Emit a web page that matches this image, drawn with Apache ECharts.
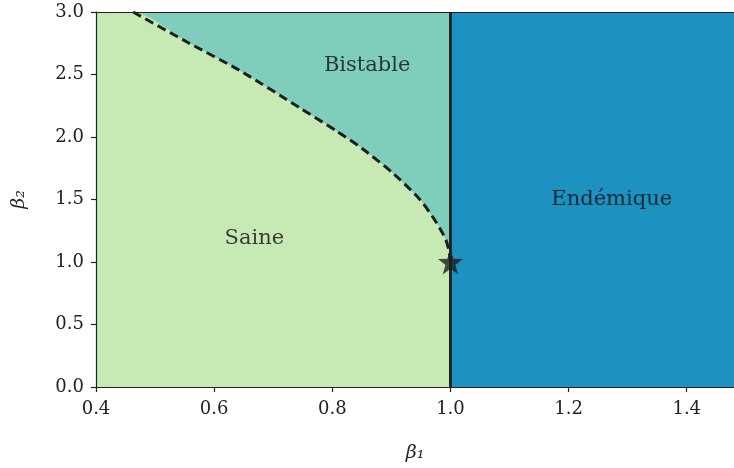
<!DOCTYPE html>
<html>
<head>
<meta charset="utf-8">
<script src="https://cdn.jsdelivr.net/npm/echarts@6/dist/echarts.min.js"></script>
<style>
  html, body { margin: 0; padding: 0; background: #fff; }
  #chart { width: 734px; height: 468px; }
</style>
</head>
<body>
<div id="chart"></div>
<script>
// frontière bistable (pointillés)
var curveX = [0.463, 0.554, 0.644, 0.746, 0.808, 0.850, 0.904, 0.949, 0.977, 0.992, 0.998, 1.0];
var curveY = [3.0, 2.76, 2.53, 2.23, 2.045, 1.91, 1.705, 1.496, 1.31, 1.18, 1.08, 1.0];
var threshold = 1.0;
var xMin = 0.4, xMax = 1.48, yMin = 0, yMax = 3;
var regionNames = ["Saine", "Bistable", "Endémique"];
var regionPos = [[0.668, 1.19], [0.859, 2.57], [1.273, 1.5]];
var colors = { saine: "#c7e9b4", bistable: "#7fcdbb", endemique: "#1d91c0", ink: "#1e1e1e" };

var font = "DejaVu Serif";

var curve = curveX.map(function (x, i) { return [x, curveY[i]]; });
var saineArea = [[xMin, yMax]].concat(curve).concat([[threshold, yMin]]);

var chart = echarts.init(document.getElementById("chart"));
var option = {
  animation: false,
  grid: { left: 96, right: 0, top: 12, bottom: 81 },
  xAxis: [
    {
      type: "value", min: xMin, max: xMax, interval: 0.2, z: 10,
      name: "β₁", nameLocation: "middle", nameGap: 57,
      nameTextStyle: { fontFamily: font, fontSize: 19, fontStyle: "italic", color: "#222" },
      axisLine: { lineStyle: { color: "#222", width: 1.2 } },
      axisTick: { length: 5, lineStyle: { color: "#222", width: 1.2 } },
      axisLabel: { fontFamily: font, fontSize: 18, color: "#222", margin: 13, showMaxLabel: false,
        formatter: function (v) { return v.toFixed(1); } },
      splitLine: { show: false }
    },
    {
      type: "value", min: xMin, max: xMax, position: "top", z: 10,
      axisLine: { lineStyle: { color: "#222", width: 1.2 } },
      axisTick: { show: false }, axisLabel: { show: false }, splitLine: { show: false }
    }
  ],
  yAxis: {
    type: "value", min: yMin, max: yMax, interval: 0.5, z: 10,
    name: "β₂", nameLocation: "middle", nameGap: 67, nameRotate: 90,
    nameTextStyle: { fontFamily: font, fontSize: 19, fontStyle: "italic", color: "#222" },
    axisLine: { show: true, lineStyle: { color: "#222", width: 1.2 } },
    axisTick: { show: true, length: 5, lineStyle: { color: "#222", width: 1.2 } },
    axisLabel: { fontFamily: font, fontSize: 18, color: "#222", margin: 12,
      formatter: function (v) { return v.toFixed(1); } },
    splitLine: { show: false }
  },
  series: [
    {
      type: "line", data: [[xMin, yMax], [threshold, yMax]], symbol: "none",
      lineStyle: { width: 0 }, areaStyle: { color: colors.bistable, opacity: 1 }
    },
    {
      type: "line", data: saineArea, symbol: "none", smooth: 0.25,
      lineStyle: { width: 0 }, areaStyle: { color: colors.saine, opacity: 1 }
    },
    {
      type: "line", data: [[threshold, yMax], [xMax, yMax]], symbol: "none",
      lineStyle: { width: 0 }, areaStyle: { color: colors.endemique, opacity: 1 }
    },
    {
      type: "line", data: curve, symbol: "none", smooth: 0.25, z: 5,
      lineStyle: { color: colors.ink, width: 3, type: [9, 5] }
    },
    {
      type: "line", data: [[threshold, yMin], [threshold, yMax]], symbol: "none", z: 5,
      lineStyle: { color: colors.ink, width: 2.8 }
    },
    {
      type: "scatter", data: [[threshold, 1.0]], symbol: "path://M0,-10 L2.35,-3.24 L9.51,-3.09 L3.8,1.24 L5.88,8.09 L0,4 L-5.88,8.09 L-3.8,1.24 L-9.51,-3.09 L-2.35,-3.24 Z",
      symbolSize: 25, z: 6, itemStyle: { color: colors.ink }
    },
    {
      type: "scatter", symbolSize: 0, z: 7,
      data: regionPos.map(function (p, i) { return { value: p, name: regionNames[i] }; }),
      label: { show: true, position: "inside", formatter: "{b}", fontFamily: font, fontSize: 21, color: "#111" }
    }
  ]
};
chart.setOption(option);
</script>
</body>
</html>
